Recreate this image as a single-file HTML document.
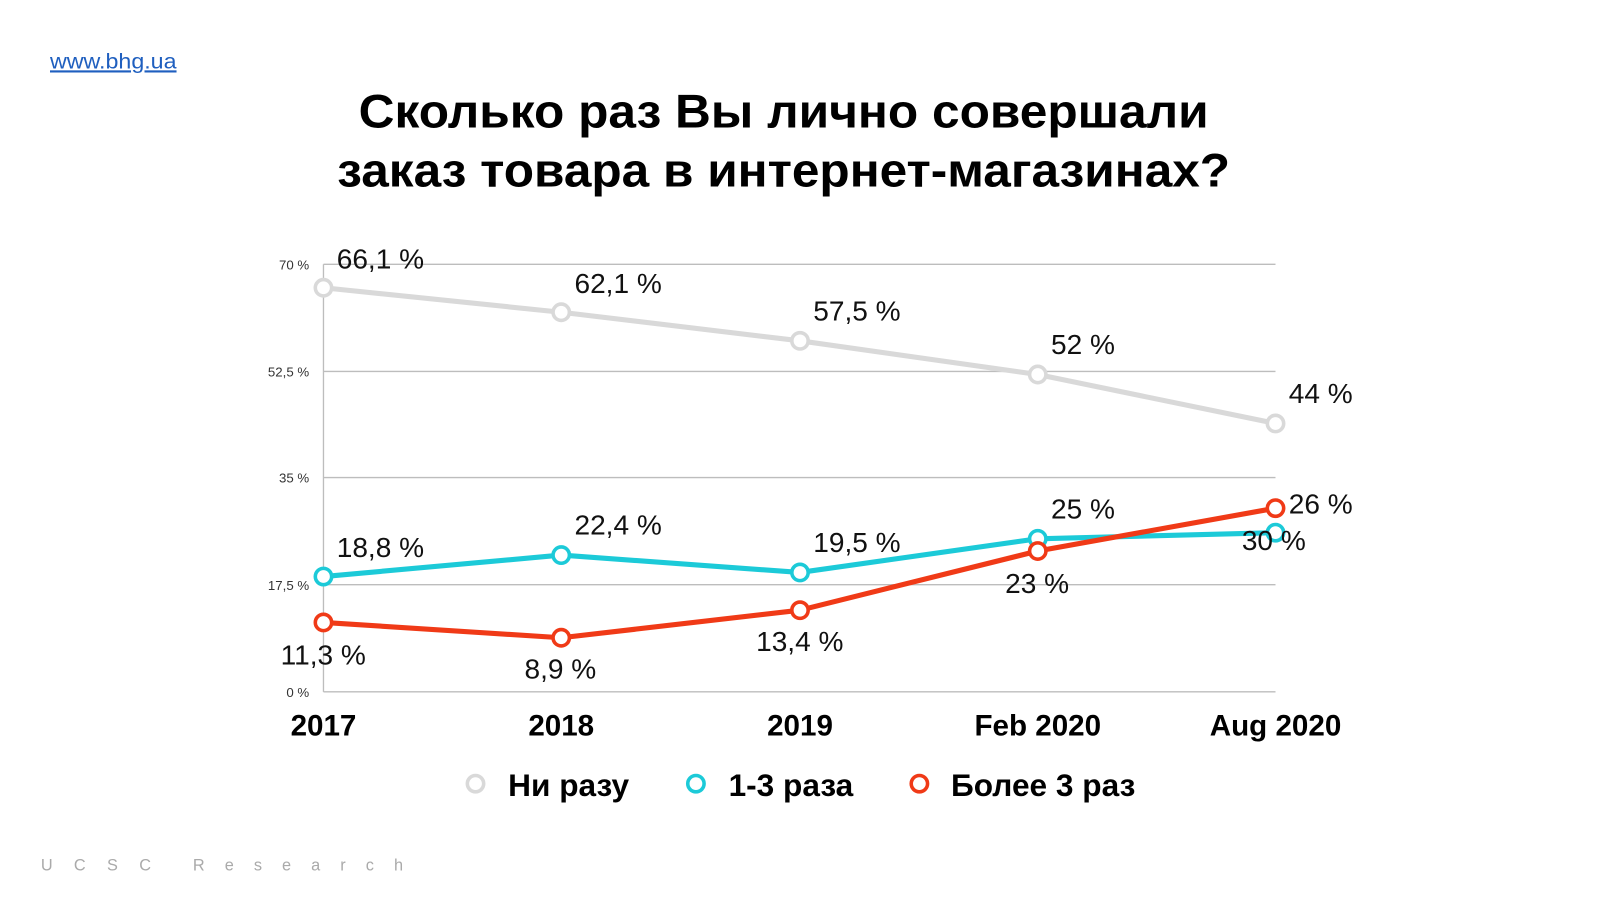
<!DOCTYPE html>
<html><head><meta charset="utf-8"><style>
html,body{margin:0;padding:0;background:#fff;}
svg{display:block;font-family:"Liberation Sans","DejaVu Sans",sans-serif;}
</style></head><body>
<svg width="1600" height="900" viewBox="0 0 1568 882" xmlns="http://www.w3.org/2000/svg">
<text x="49" y="67" font-size="21" fill="#1f5fbf" text-decoration="underline" textLength="124" lengthAdjust="spacingAndGlyphs">www.bhg.ua</text>
<text x="768" y="125" font-size="46" font-weight="bold" text-anchor="middle" textLength="833" lengthAdjust="spacingAndGlyphs">Сколько раз Вы лично совершали</text>
<text x="768" y="183" font-size="46" font-weight="bold" text-anchor="middle" textLength="875" lengthAdjust="spacingAndGlyphs">заказ товара в интернет-магазинах?</text>
<g stroke="#bdbdbd" stroke-width="1.3">
<line x1="317" y1="259" x2="1250" y2="259"/>
<line x1="317" y1="364" x2="1250" y2="364"/>
<line x1="317" y1="468" x2="1250" y2="468"/>
<line x1="317" y1="573" x2="1250" y2="573"/>
<line x1="317" y1="678" x2="1250" y2="678"/>
<line x1="317" y1="259" x2="317" y2="678"/>
</g>
<g font-size="13" fill="#333" text-anchor="end">
<text x="303" y="264">70 %</text>
<text x="303" y="369">52,5 %</text>
<text x="303" y="473">35 %</text>
<text x="303" y="578">17,5 %</text>
<text x="303" y="683">0 %</text>
</g>
<g font-size="29" font-weight="bold" text-anchor="middle">
<text x="317" y="721">2017</text>
<text x="550" y="721">2018</text>
<text x="784" y="721">2019</text>
<text x="1017" y="721">Feb 2020</text>
<text x="1250" y="721">Aug 2020</text>
</g>
<g fill="none" stroke-width="5" stroke-linejoin="round">
<polyline stroke="#d9d9d9" points="317,282 550,306 784,334 1017,367 1250,415"/>
<polyline stroke="#1ccad8" points="317,565 550,544 784,561 1017,528 1250,522"/>
<polyline stroke="#f03a17" points="317,610 550,625 784,598 1017,540 1250,498"/>
</g>
<g fill="#fff" stroke-width="3.5">
<g stroke="#d9d9d9"><circle cx="317" cy="282" r="8"/><circle cx="550" cy="306" r="8"/><circle cx="784" cy="334" r="8"/><circle cx="1017" cy="367" r="8"/><circle cx="1250" cy="415" r="8"/></g>
<g stroke="#1ccad8"><circle cx="317" cy="565" r="8"/><circle cx="550" cy="544" r="8"/><circle cx="784" cy="561" r="8"/><circle cx="1017" cy="528" r="8"/><circle cx="1250" cy="522" r="8"/></g>
<g stroke="#f03a17"><circle cx="317" cy="610" r="8"/><circle cx="550" cy="625" r="8"/><circle cx="784" cy="598" r="8"/><circle cx="1017" cy="540" r="8"/><circle cx="1250" cy="498" r="8"/></g>
</g>
<g font-size="27.5" fill="#111">
<text x="330" y="263">66,1 %</text>
<text x="563" y="287">62,1 %</text>
<text x="797" y="314">57,5 %</text>
<text x="1030" y="347">52 %</text>
<text x="1263" y="395">44 %</text>
<text x="330" y="546">18,8 %</text>
<text x="563" y="524">22,4 %</text>
<text x="797" y="541">19,5 %</text>
<text x="1030" y="508">25 %</text>
<text x="1217" y="539">30 %</text>
<text x="1263" y="503">26 %</text>
<text x="275" y="651">11,3 %</text>
<text x="514" y="665">8,9 %</text>
<text x="741" y="638">13,4 %</text>
<text x="985" y="581">23 %</text>
</g>
<g font-size="31" font-weight="bold">
<circle cx="466" cy="768" r="8" fill="#fff" stroke="#d9d9d9" stroke-width="3.5"/>
<text x="498" y="780">Ни разу</text>
<circle cx="682" cy="768" r="8" fill="#fff" stroke="#1ccad8" stroke-width="3.5"/>
<text x="714" y="780">1-3 раза</text>
<circle cx="901" cy="768" r="8" fill="#fff" stroke="#f03a17" stroke-width="3.5"/>
<text x="932" y="780">Более 3 раз</text>
</g>
<text x="40" y="853" font-size="16" fill="#aaa" textLength="108" lengthAdjust="spacing">UCSC</text>
<text x="189" y="853" font-size="16" fill="#aaa" textLength="206" lengthAdjust="spacing">Research</text>
</svg>
</body></html>
